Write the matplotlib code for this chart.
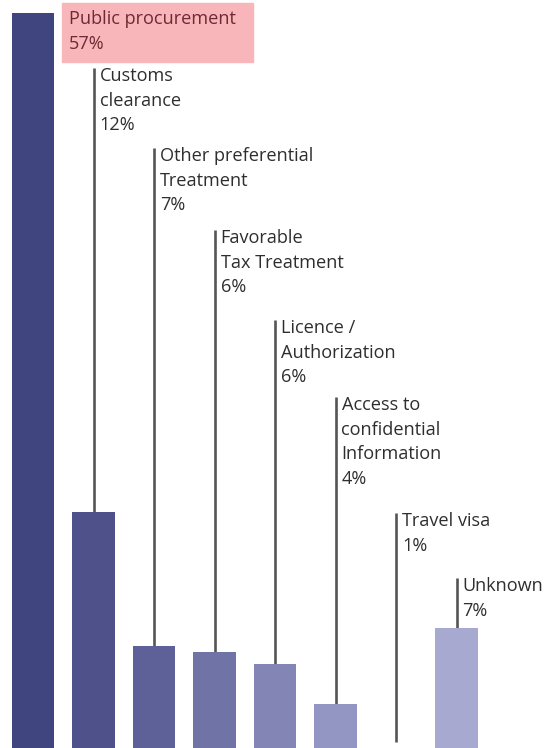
import matplotlib
matplotlib.use('Agg')
import matplotlib.pyplot as plt
import numpy as np

# categories, shares shown in labels, and bar heights as drawn (px of the original)
categories = ['Public procurement', 'Customs\nclearance', 'Other preferential\nTreatment',
              'Favorable\nTax Treatment', 'Licence /\nAuthorization',
              'Access to\nconfidential\nInformation', 'Travel visa', 'Unknown']
shares = ['57%', '12%', '7%', '6%', '6%', '4%', '1%', '7%']
heights = [735, 236, 102, 96, 84, 44, 0, 120]
colors = ['#41457F', '#4F528A', '#5E6198', '#7073A6', '#8386B4', '#9396C2', '#A2A4CC', '#A7A9D1']

# top of each label (leader line top), in px from the top of the picture
label_tops = [None, 68, 148, 230, 320, 397, 513, 578]

W, H = 546, 748
fig = plt.figure(figsize=(W / 100, H / 100), dpi=100)
ax = fig.add_axes([0, 0, 1, 1])
step = 60.5
x0 = 33
ax.set_xlim(-x0 / step, (W - x0) / step)
ax.set_ylim(0, H)
ax.axis('off')

x = np.arange(len(categories))
ax.bar(x, heights, width=0.7, color=colors, zorder=2)

fs = 13.1
txtcol = '#2e2e2e'
for i in range(1, len(categories)):
    top = H - label_tops[i]
    bottom = heights[i] if heights[i] > 0 else 6
    ax.plot([x[i], x[i]], [bottom, top], color='#555555', lw=1.9, zorder=1,
            solid_capstyle='butt')
    ax.text(x[i] + 6 / step, top + 1, categories[i] + '\n' + shares[i],
            ha='left', va='top', fontsize=fs, color=txtcol, linespacing=1.47,
            family='Open Sans')

# highlighted first label
box = plt.Rectangle((62 / step - x0 / step, H - 62), 191 / step, 59,
                    color='#F8B6BA', zorder=1)
ax.add_patch(box)
ax.text(69 / step - x0 / step, H - 10, categories[0] + '\n' + shares[0],
        ha='left', va='top', fontsize=fs, color='#6B2A35', linespacing=1.47,
        family='Open Sans')

fig.savefig('out.png', dpi=100)
